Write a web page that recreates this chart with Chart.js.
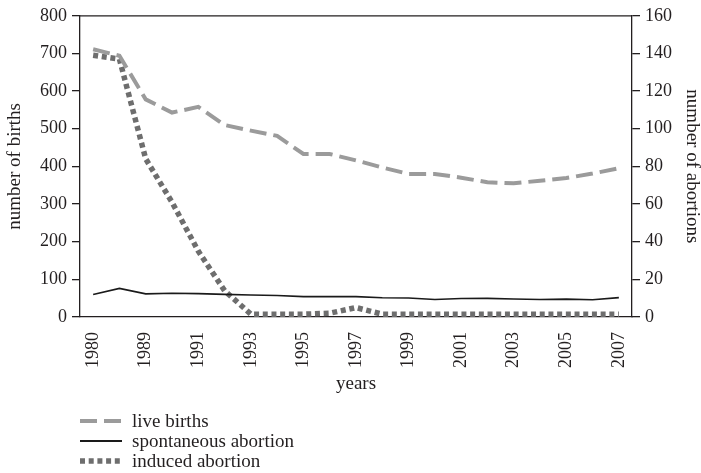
<!DOCTYPE html>
<html>
<head>
<meta charset="utf-8">
<script src="https://cdn.jsdelivr.net/npm/chart.js@4/dist/chart.umd.min.js"></script>
<style>
  html, body { margin: 0; padding: 0; background: #fff; }
  #wrap { position: relative; width: 701px; height: 473px; }
  #legend { position: absolute; left: 80px; top: 411px; font-family: "Liberation Serif", serif; font-size: 19px; color: #231f20; }
  .row { height: 20px; display: flex; align-items: center; }
  .row svg { width: 42px; height: 8px; margin-right: 10px; }
</style>
</head>
<body>
<div id="wrap">
  <canvas id="c" width="701" height="473"></canvas>
  <div id="legend"></div>
</div>
<script>
const categories = ['1980','1988','1989','1990','1991','1992','1993','1994','1995','1996','1997','1998','1999','2000','2001','2002','2003','2004','2005','2006','2007'];
const liveBirths = [711, 694, 578, 543, 558, 510, 495, 481, 433, 433, 416, 397, 380, 380, 370, 358, 355, 362, 369, 381, 395];
const spontaneousAbortion = [12, 15.2, 12.3, 12.6, 12.4, 12.0, 11.7, 11.4, 10.8, 10.8, 10.8, 10.2, 10.1, 9.3, 9.8, 9.9, 9.6, 9.3, 9.5, 9.2, 10.3];
const inducedAbortion = [139, 137, 84, 61, 35, 14, 1.5, 1.5, 1.5, 2, 5, 1.5, 1.5, 1.5, 1.5, 1.5, 1.5, 1.5, 1.5, 1.5, 1.5];
const leftTicks = { min: 0, max: 800, step: 100 };
const rightTicks = { min: 0, max: 160, step: 20 };
const seriesNames = ['live births', 'spontaneous abortion', 'induced abortion'];

const FONT = '"Liberation Serif", "Times New Roman", serif';
const INK = '#231f20';
const TICK = 18, TITLE = 19;
const styles = [
  { color: '#9b9b9b', width: 4, dash: [17, 7] },
  { color: '#1a1a1a', width: 1.6, dash: [] },
  { color: '#6e6e6e', width: 5.5, dash: [5, 3.7] }
];

const frame = {
  id: 'frame',
  afterDatasetsDraw(chart) {
    const { ctx, chartArea: a } = chart;
    ctx.save();
    ctx.strokeStyle = INK;
    ctx.lineWidth = 1.3;
    ctx.beginPath();
    ctx.moveTo(a.left, a.top);
    ctx.lineTo(a.right, a.top);
    ctx.stroke();
    ctx.restore();
  }
};

new Chart(document.getElementById('c'), {
  type: 'line',
  data: {
    labels: categories,
    datasets: [
      { label: seriesNames[0], data: liveBirths, yAxisID: 'y' },
      { label: seriesNames[1], data: spontaneousAbortion, yAxisID: 'y1' },
      { label: seriesNames[2], data: inducedAbortion, yAxisID: 'y1' }
    ].map((d, i) => Object.assign(d, {
      borderColor: styles[i].color,
      borderWidth: styles[i].width,
      borderDash: styles[i].dash,
      borderCapStyle: 'butt',
      pointRadius: 0,
      tension: 0,
      fill: false
    }))
  },
  options: {
    responsive: false,
    animation: false,
    events: [],
    layout: { padding: { top: 15, bottom: 78, left: 0, right: 0 } },
    plugins: { legend: { display: false }, tooltip: { enabled: false } },
    scales: {
      x: {
        offset: true,
        afterFit: s => { s.height = 78; },
        grid: { display: true, drawOnChartArea: false, drawTicks: false, color: INK },
        border: { display: true, color: INK, width: 1.3 },
        ticks: {
          autoSkip: false, maxRotation: 90, minRotation: 90, padding: 15,
          color: INK, font: { family: FONT, size: TICK },
          callback: function (v, i) { return i % 2 === 0 ? this.getLabelForValue(v) : ''; }
        },
        title: { display: true, text: 'years', color: INK, font: { family: FONT, size: TITLE }, padding: { top: 0, bottom: 0 } }
      },
      y: {
        position: 'left',
        min: leftTicks.min, max: leftTicks.max,
        afterFit: s => { s.width = 80; },
        grid: { display: true, drawOnChartArea: false, drawTicks: true, tickLength: 8, color: INK, lineWidth: 1.3 },
        border: { display: true, color: INK, width: 1.3 },
        ticks: { stepSize: leftTicks.step, padding: 5, color: INK, font: { family: FONT, size: TICK } },
        title: { display: true, text: 'number of births', color: INK, font: { family: FONT, size: TITLE }, padding: { top: 4, bottom: 0 } }
      },
      y1: {
        position: 'right',
        min: rightTicks.min, max: rightTicks.max,
        afterFit: s => { s.width = 69; },
        grid: { display: true, drawOnChartArea: false, drawTicks: true, tickLength: 8, color: INK, lineWidth: 1.3 },
        border: { display: true, color: INK, width: 1.3 },
        ticks: { stepSize: rightTicks.step, padding: 5, color: INK, font: { family: FONT, size: TICK } },
        title: { display: true, text: 'number of abortions', color: INK, font: { family: FONT, size: TITLE }, padding: { top: -2, bottom: 0 } }
      }
    }
  },
  plugins: [frame]
});

// HTML legend
const legend = document.getElementById('legend');
seriesNames.forEach((name, i) => {
  const st = styles[i];
  const row = document.createElement('div');
  row.className = 'row';
  row.innerHTML = '<svg viewBox="0 0 42 8"><line x1="0" y1="4" x2="42" y2="4" stroke="' + st.color +
    '" stroke-width="' + Math.max(st.width, 2) + '" stroke-dasharray="' + (st.dash.length ? st.dash.join(' ') : 'none') + '"/></svg><span>' + name + '</span>';
  legend.appendChild(row);
});
</script>
</body>
</html>
